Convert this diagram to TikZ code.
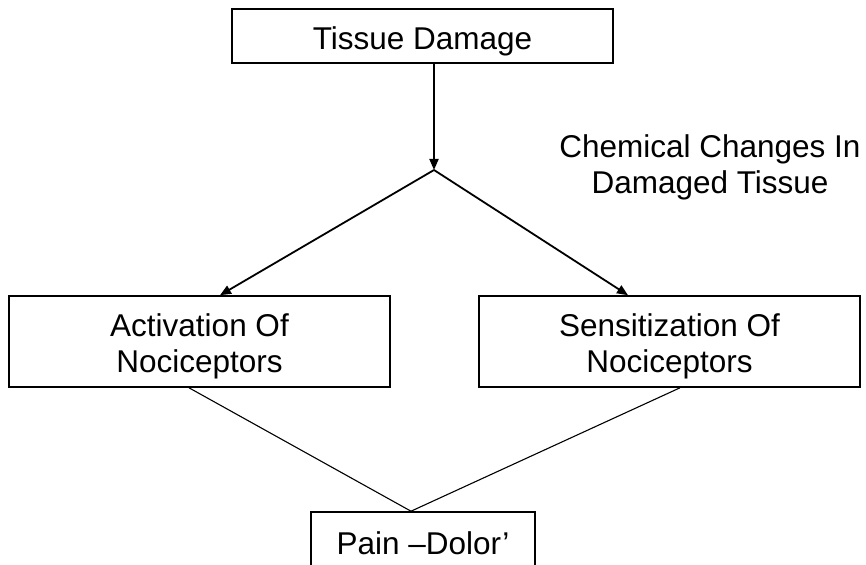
\documentclass[tikz,border=0pt]{standalone}
\usepackage{fontspec}
\setmainfont{Liberation Sans}
\usetikzlibrary{arrows.meta,positioning,calc}
\tikzset{
    stagebox/.style={draw, line width=1.6pt, align=center, inner sep=0pt,
        font=\fontsize{31.5}{36}\selectfont, minimum width=381pt},
    flowarrow/.style={-{Triangle[length=11pt, width=9pt]}, line width=1.8pt},
    joinline/.style={line width=1.1pt}
}

\begin{document}
\begin{tikzpicture}[x=1pt, y=-1pt]
\useasboundingbox (0,0) rectangle (866,564);
\node[stagebox, minimum height=54pt, text height=33pt, text depth=6.5pt] (damage) at (422.5,36) {Tissue Damage};
\coordinate (split) at (434,170);
\node[font=\fontsize{31.5}{36}\selectfont, align=center, inner sep=0pt] (chem) at (710,167)
    {Chemical Changes In\\Damaged Tissue};
\node[stagebox, minimum height=91pt, text height=69pt, text depth=6.5pt] (act) at (199.5,341.5) {Activation Of\\Nociceptors};
\node[stagebox, minimum height=91pt, text height=69pt, text depth=6.5pt] (sens) at (669.5,341.5) {Sensitization Of\\Nociceptors};
\node[stagebox, minimum width=224pt, minimum height=62pt] (pain) at (423,543) {Pain --Dolor'};
\draw[flowarrow] (damage.south -| split) -- (split);
\draw[flowarrow] (split) -- ([xshift=20.5]act.north);
\draw[flowarrow] (split) -- ([xshift=-41.5]sens.north);
\draw[joinline] ([xshift=-10.5]act.south) -- ([xshift=-12]pain.north);
\draw[joinline] ([xshift=10.5]sens.south) -- ([xshift=-12]pain.north);
\end{tikzpicture}
\end{document}
